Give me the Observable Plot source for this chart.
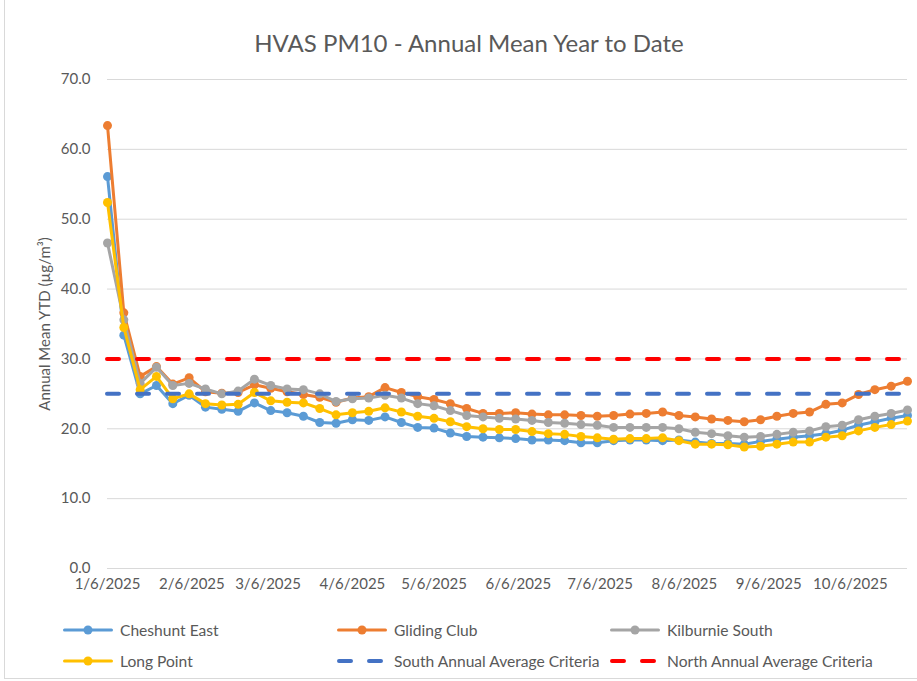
<!DOCTYPE html>
<html>
<head>
<meta charset="utf-8">
<script src="https://cdn.jsdelivr.net/npm/d3@7"></script>
<script src="https://cdn.jsdelivr.net/npm/@observablehq/plot@0.6"></script>
<style>
  body { margin: 0; background: #fff; }
  #wrap { position: relative; width: 917px; height: 681px; overflow: hidden; font-family: Lato, sans-serif; color: #595959; background: #fff; }
  #frame { position: absolute; left: 4px; top: -2px; width: 940px; height: 681px; border: 1px solid #d9d9d9; box-sizing: border-box; pointer-events: none; }
  #title { position: absolute; left: 0; top: 29px; width: 938px; text-align: center; font-size: 24px; line-height: 28px; }
  #chart { position: absolute; left: 0; top: 0; }
  .leg { position: absolute; display: flex; align-items: center; font-size: 15.6px; line-height: 18px; white-space: nowrap; }
  .leg svg { margin-right: 5px; }
</style>
</head>
<body>
<div id="wrap">
  <div id="frame"></div>
  <div id="title">HVAS PM10 - Annual Mean Year to Date</div>
  <div id="chart"></div>
  <div id="legend"></div>
</div>
<script>
// ---- Data ----
const sampleDates = [
  "2025-01-06","2025-01-12","2025-01-18","2025-01-24","2025-01-30",
  "2025-02-05","2025-02-11","2025-02-17","2025-02-23","2025-03-01",
  "2025-03-07","2025-03-13","2025-03-19","2025-03-25","2025-03-31",
  "2025-04-06","2025-04-12","2025-04-18","2025-04-24","2025-04-30",
  "2025-05-06","2025-05-12","2025-05-18","2025-05-24","2025-05-30",
  "2025-06-05","2025-06-11","2025-06-17","2025-06-23","2025-06-29",
  "2025-07-05","2025-07-11","2025-07-17","2025-07-23","2025-07-29",
  "2025-08-04","2025-08-10","2025-08-16","2025-08-22","2025-08-28",
  "2025-09-03","2025-09-09","2025-09-15","2025-09-21","2025-09-27",
  "2025-10-03","2025-10-09","2025-10-15","2025-10-21","2025-10-27"
];

const cheshuntEast = [
  56.1, 33.4, 25.0, 26.2, 23.6, 24.8, 23.1, 22.8, 22.5, 23.7,
  22.6, 22.3, 21.8, 20.9, 20.8, 21.3, 21.2, 21.7, 20.9, 20.2,
  20.1, 19.4, 18.9, 18.8, 18.7, 18.6, 18.4, 18.4, 18.3, 18.0,
  18.0, 18.3, 18.4, 18.4, 18.3, 18.4, 18.1, 17.9, 17.9, 17.8,
  18.2, 18.5, 18.8, 19.0, 19.3, 19.8, 20.5, 21.0, 21.5, 21.9
];
const glidingClub = [
  63.4, 36.6, 27.5, 28.9, 26.4, 27.3, 25.3, 25.1, 25.2, 26.3,
  25.8, 25.3, 24.9, 24.5, 23.8, 24.4, 24.6, 25.9, 25.2, 24.6,
  24.2, 23.6, 22.9, 22.2, 22.2, 22.3, 22.1, 22.0, 22.0, 21.9,
  21.8, 21.9, 22.1, 22.2, 22.4, 21.9, 21.7, 21.4, 21.2, 21.0,
  21.3, 21.8, 22.2, 22.4, 23.5, 23.7, 24.9, 25.6, 26.1, 26.8
];
const kilburnieSouth = [
  46.6, 35.6, 26.5, 28.8, 26.2, 26.5, 25.7, 25.0, 25.4, 27.1,
  26.2, 25.7, 25.6, 25.0, 23.9, 24.3, 24.4, 24.8, 24.4, 23.6,
  23.3, 22.6, 21.9, 21.7, 21.5, 21.4, 21.2, 20.9, 20.8, 20.6,
  20.5, 20.2, 20.2, 20.2, 20.2, 20.0, 19.5, 19.3, 19.0, 18.8,
  18.9, 19.2, 19.5, 19.7, 20.3, 20.5, 21.3, 21.8, 22.2, 22.7
];
const longPoint = [
  52.4, 34.5, 25.6, 27.5, 24.3, 25.0, 23.6, 23.4, 23.5, 25.2,
  24.0, 23.8, 23.7, 22.9, 22.0, 22.3, 22.5, 23.0, 22.4, 21.8,
  21.5, 21.0, 20.3, 20.0, 19.9, 19.9, 19.6, 19.3, 19.2, 18.9,
  18.7, 18.5, 18.6, 18.6, 18.7, 18.3, 17.8, 17.8, 17.7, 17.4,
  17.5, 17.8, 18.1, 18.1, 18.8, 19.0, 19.7, 20.2, 20.6, 21.1
];
const southCriteria = 25;
const northCriteria = 30;

const seriesNames = ["Cheshunt East", "Gliding Club", "Kilburnie South", "Long Point"];
const seriesColors = ["#5B9BD5", "#ED7D31", "#A5A5A5", "#FFC000"];
const criteriaNames = ["South Annual Average Criteria", "North Annual Average Criteria"];
const criteriaColors = ["#4472C4", "#FF0000"];

const xTickDates = ["2025-01-06","2025-02-06","2025-03-06","2025-04-06","2025-05-06",
                    "2025-06-06","2025-07-06","2025-08-06","2025-09-06","2025-10-06"];
const xTickLabels = ["1/6/2025","2/6/2025","3/6/2025","4/6/2025","5/6/2025",
                     "6/6/2025","7/6/2025","8/6/2025","9/6/2025","10/6/2025"];
const yTicks = [0, 10, 20, 30, 40, 50, 60, 70];
const yTickLabels = ["0.0","10.0","20.0","30.0","40.0","50.0","60.0","70.0"];
const yTitle = "Annual Mean YTD (µg/m³)";

// ---- Build ----
const parse = d3.utcParse("%Y-%m-%d");
const dates = sampleDates.map(parse);
const tickDates = xTickDates.map(parse);
const seriesValues = [cheshuntEast, glidingClub, kilburnieSouth, longPoint];

const seriesMarks = seriesValues.flatMap((vals, k) => {
  const data = dates.map((d, i) => ({date: d, value: vals[i]}));
  return [
    Plot.line(data, {x: "date", y: "value", stroke: seriesColors[k], strokeWidth: 3, strokeLinejoin: "round", strokeLinecap: "round"}),
    Plot.dot(data, {x: "date", y: "value", r: 4.5, fill: seriesColors[k], stroke: "none"})
  ];
});

const chart = Plot.plot({
  width: 917,
  height: 600,
  marginLeft: 107,
  marginRight: 10,
  marginTop: 79,
  marginBottom: 32,
  style: {fontFamily: "Lato, sans-serif", fontSize: "15px", color: "#595959", background: "transparent", overflow: "visible"},
  x: {type: "utc", domain: [dates[0], dates[dates.length - 1]]},
  y: {domain: [0, 70]},
  marks: [
    Plot.gridY(yTicks, {stroke: "#d9d9d9", strokeOpacity: 1, strokeWidth: 1}),
    Plot.axisY(yTicks, {
      tickSize: 0, tickPadding: 17,
      tickFormat: (d) => yTickLabels[yTicks.indexOf(d)],
      label: yTitle, labelAnchor: "center", labelArrow: "none", labelOffset: 68
    }),
    Plot.axisX(tickDates, {
      tickSize: 0, tickPadding: 10,
      tickFormat: (d) => xTickLabels[tickDates.findIndex(t => +t === +d)],
      label: null
    }),
    ...seriesMarks,
    Plot.ruleY([southCriteria], {stroke: criteriaColors[0], strokeWidth: 4, strokeDasharray: "12,18", strokeLinecap: "round"}),
    Plot.ruleY([northCriteria], {stroke: criteriaColors[1], strokeWidth: 4, strokeDasharray: "12,18", strokeLinecap: "round"})
  ]
});
document.getElementById("chart").appendChild(chart);

// ---- Legend ----
const legend = document.getElementById("legend");
const legendItems = [
  {name: seriesNames[0], color: seriesColors[0], type: "marker", x: 63, y: 630},
  {name: seriesNames[1], color: seriesColors[1], type: "marker", x: 337, y: 630},
  {name: seriesNames[2], color: seriesColors[2], type: "marker", x: 610, y: 630},
  {name: seriesNames[3], color: seriesColors[3], type: "marker", x: 63, y: 661},
  {name: criteriaNames[0], color: criteriaColors[0], type: "dash", x: 337, y: 661},
  {name: criteriaNames[1], color: criteriaColors[1], type: "dash", x: 610, y: 661}
];
for (const it of legendItems) {
  const div = document.createElement("div");
  div.className = "leg";
  div.style.left = (it.x - 2) + "px";
  div.style.top = (it.y - 9) + "px";
  const sw = it.type === "marker"
    ? `<svg width="54" height="12"><line x1="3.5" y1="6" x2="50.5" y2="6" stroke="${it.color}" stroke-width="3" stroke-linecap="round"/><circle cx="27" cy="6" r="4.5" fill="${it.color}"/></svg>`
    : `<svg width="54" height="12"><line x1="4" y1="6" x2="50" y2="6" stroke="${it.color}" stroke-width="4" stroke-dasharray="12,18" stroke-linecap="round"/></svg>`;
  div.innerHTML = sw + `<span>${it.name}</span>`;
  legend.appendChild(div);
}
</script>
</body>
</html>
